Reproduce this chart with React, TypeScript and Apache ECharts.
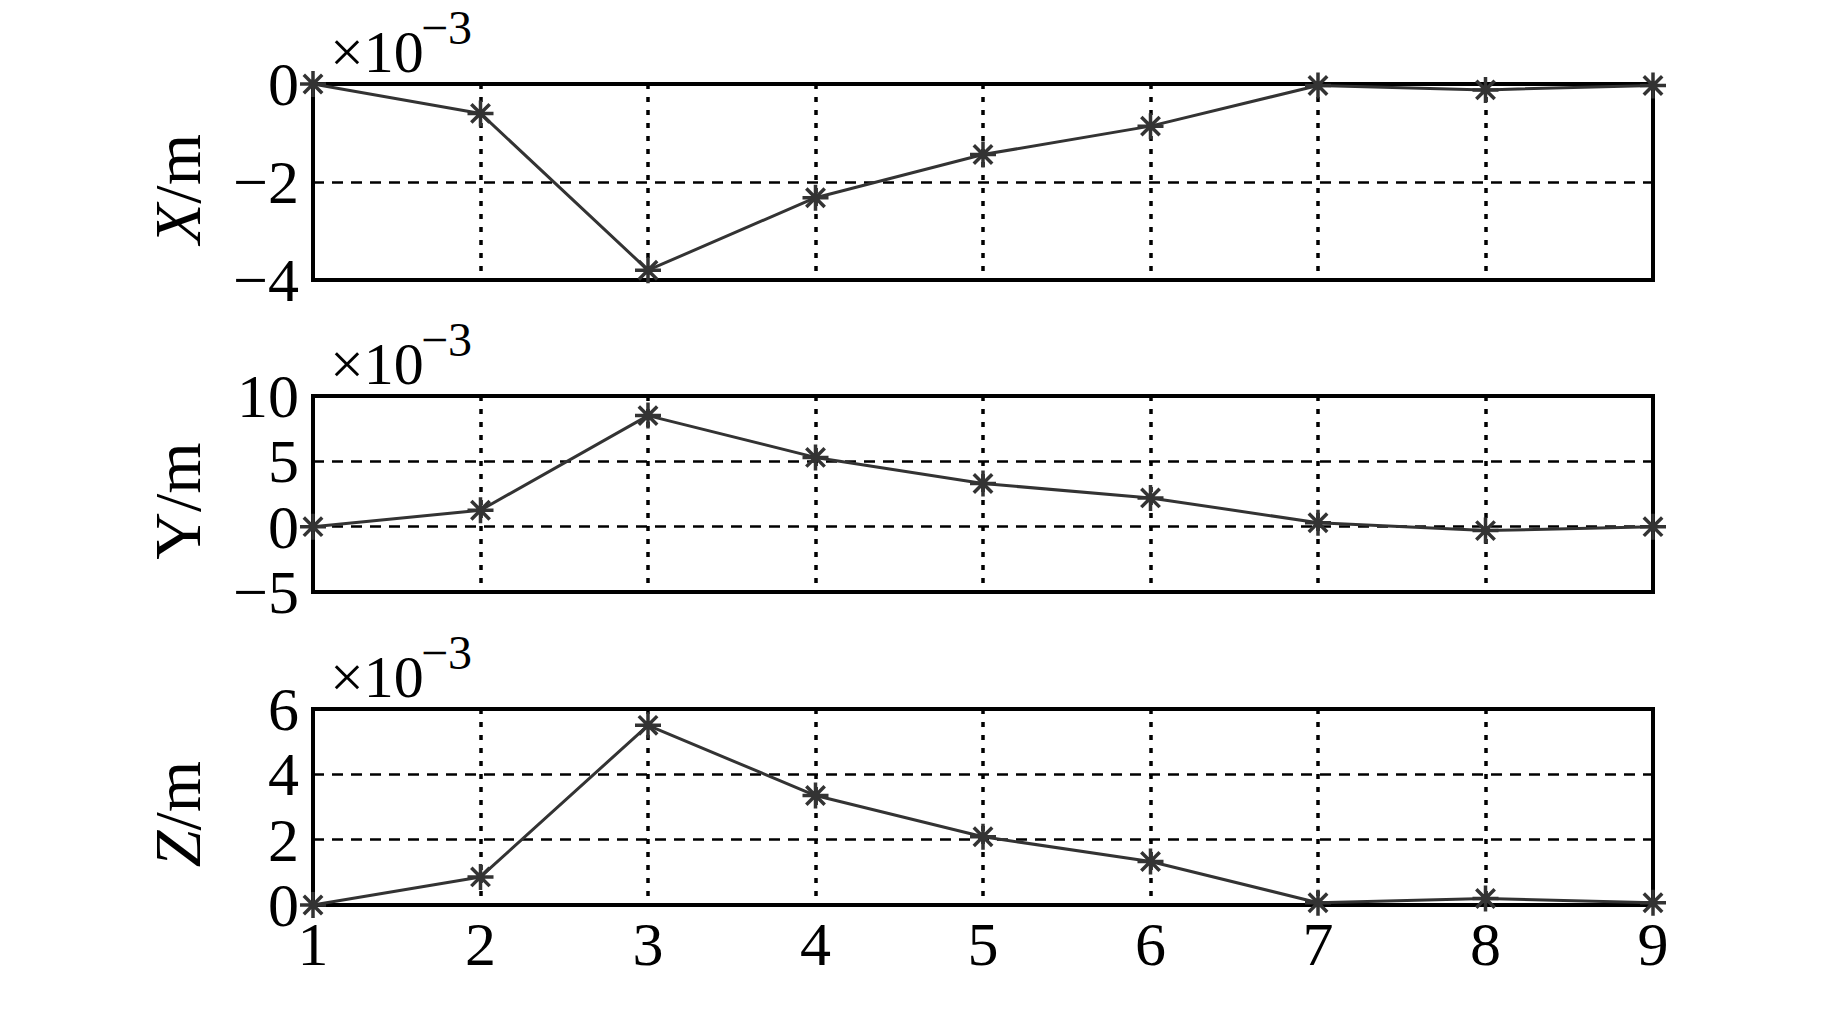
import React, { useEffect, useRef } from "react";
import * as echarts from "echarts";

const stations = [1, 2, 3, 4, 5, 6, 7, 8, 9];
const xValues = [0, -0.6, -3.8, -2.32, -1.44, -0.86, -0.03, -0.12, -0.03];
const yValues = [0, 1.26, 8.5, 5.3, 3.3, 2.2, 0.3, -0.3, 0];
const zValues = [0, 0.86, 5.5, 3.35, 2.09, 1.33, 0.07, 0.2, 0.07];
const axisNames = ["X", "Y", "Z"];
const axisNameItalic = [true, false, true];
const yRanges = [
  { min: -4, max: 0, interval: 2 },
  { min: -5, max: 10, interval: 5 },
  { min: 0, max: 6, interval: 2 },
];
const xTickLabels = ["1", "2", "3", "4", "5", "6", "7", "8", "9"];

const FONT = "'Liberation Serif', 'DejaVu Serif', serif";
const STAR = "path://M12 0 L12 24 M0 12 L24 12 M3.5 3.5 L20.5 20.5 M3.5 20.5 L20.5 3.5";

export default function App() {
  const ref = useRef<HTMLDivElement>(null);
  useEffect(() => {
    document.body.style.margin = "0";
    if (!ref.current) return;
    const chart = echarts.init(ref.current, null, { renderer: "svg" });
    const tops = [84, 396, 709];
    const height = 196;
    const seriesVals = [xValues, yValues, zValues];

    const grids = tops.map((t) => ({
      left: 313,
      right: 190,
      top: t,
      height,
      show: true,
      borderColor: "#000",
      borderWidth: 4,
      backgroundColor: "#fff",
    }));

    const xAxes = tops.map((_, i) => ({
      type: "value",
      gridIndex: i,
      min: 1,
      max: 9,
      interval: 1,
      axisLine: { show: false },
      axisTick: { show: false },
      axisLabel: {
        show: i === 2,
        fontFamily: FONT,
        fontSize: 62,
        color: "#000",
        margin: 8,
        formatter: (v: number) => xTickLabels[Math.round(v) - 1] ?? "",
      },
      splitLine: {
        show: true,
        lineStyle: { type: [5, 8], color: "#000", width: 3.5 },
      },
    }));

    const yAxes = yRanges.map((r, i) => ({
      type: "value",
      gridIndex: i,
      min: r.min,
      max: r.max,
      interval: r.interval,
      axisLine: { show: false },
      axisTick: { show: false },
      axisLabel: {
        fontFamily: FONT,
        fontSize: 62,
        color: "#000",
        margin: 14,
        formatter: (v: number) => (v < 0 ? "\u2212" + Math.abs(v) : String(v)),
      },
      splitLine: {
        show: true,
        lineStyle: { type: [11, 8], color: "#000", width: 2.5 },
      },
      name: `{i|${axisNames[i]}}/m`,
      nameLocation: "middle",
      nameRotate: 90,
      nameGap: 103,
      nameTextStyle: {
        fontFamily: FONT,
        fontSize: 66,
        color: "#000",
        padding: [0, 14, 0, 0],
        rich: {
          i: {
            fontFamily: FONT,
            fontSize: 66,
            fontStyle: axisNameItalic[i] ? "italic" : "normal",
            color: "#000",
          },
        },
      },
    }));

    const series = seriesVals.map((vals, i) => ({
      type: "line",
      xAxisIndex: i,
      yAxisIndex: i,
      data: stations.map((s, k) => [s, vals[k]]),
      symbol: STAR,
      symbolSize: 26,
      showSymbol: true,
      lineStyle: { color: "#333", width: 3 },
      itemStyle: { color: "transparent", borderColor: "#333", borderWidth: 3.5 },
      clip: false,
      z: 5,
    }));

    const graphic: any[] = [];
    tops.forEach((t) => {
      graphic.push({
        type: "text",
        left: 330,
        top: t - 62,
        style: { text: "\u00d710", font: `60px ${FONT}`, fill: "#000" },
        z: 10,
      });
      graphic.push({
        type: "text",
        left: 421,
        top: t - 81,
        style: { text: "\u22123", font: `48px ${FONT}`, fill: "#000" },
        z: 10,
      });
    });

    chart.setOption({
      animation: false,
      backgroundColor: "#fff",
      grid: grids,
      xAxis: xAxes,
      yAxis: yAxes,
      series,
      graphic,
    });
    return () => chart.dispose();
  }, []);
  return <div ref={ref} style={{ width: 1843, height: 1016 }} />;
}
